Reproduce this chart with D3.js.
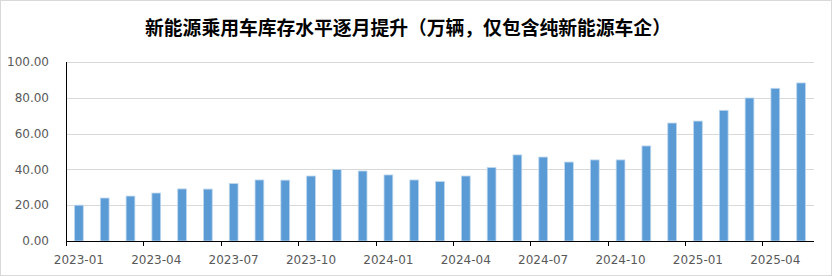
<!DOCTYPE html>
<html>
<head>
<meta charset="utf-8">
<script src="https://cdn.jsdelivr.net/npm/d3@7"></script>
<style>
  body { margin: 0; background: #fff; }
  svg { display: block; }
</style>
</head>
<body>
<div id="chart"></div>
<script>
const months = [
  "2023-01","2023-02","2023-03","2023-04","2023-05","2023-06","2023-07","2023-08","2023-09","2023-10","2023-11","2023-12",
  "2024-01","2024-02","2024-03","2024-04","2024-05","2024-06","2024-07","2024-08","2024-09","2024-10","2024-11","2024-12",
  "2025-01","2025-02","2025-03","2025-04","2025-05"
];
const inventory = [
  20, 24, 25.1, 26.8, 29.1, 29, 32.1, 34.1, 34, 36.3, 39.9, 39.1,
  36.9, 34.1, 33.2, 36.3, 41, 48.1, 46.9, 44.1, 45.3, 45.3, 53.1, 65.9,
  67, 73, 79.9, 85.3, 88.3
];
const yTicks = [0, 20, 40, 60, 80, 100];
const labelMonths = months.filter((m, i) => i % 3 === 0);

const width = 832, height = 276;
const margin = { top: 62, right: 18, bottom: 35, left: 66 };

const svg = d3.select("#chart")
  .append("svg")
  .attr("width", width)
  .attr("height", height);

// outer frame
svg.append("rect")
  .attr("x", 0.5).attr("y", 0.5)
  .attr("width", width - 1).attr("height", height - 1)
  .attr("fill", "#fff")
  .attr("stroke", "#d9d9d9");

svg.append("text")
  .attr("x", 408)
  .attr("y", 35)
  .attr("text-anchor", "middle")
  .attr("font-family", "'Noto Sans CJK SC', 'Noto Sans', sans-serif")
  .attr("font-weight", "bold")
  .attr("font-size", "18.8px")
  .attr("fill", "#000")
  .text("新能源乘用车库存水平逐月提升（万辆，仅包含纯新能源车企）");

const x = d3.scaleBand()
  .domain(months)
  .range([margin.left, width - margin.right])
  .paddingInner(0.66)
  .paddingOuter(0.33);

const y = d3.scaleLinear()
  .domain([0, 100])
  .range([height - margin.bottom, margin.top]);

// grid
svg.append("g")
  .selectAll("line")
  .data(yTicks.slice(1))
  .join("line")
  .attr("x1", margin.left)
  .attr("x2", width - margin.right)
  .attr("y1", d => Math.round(y(d)) + 0.5)
  .attr("y2", d => Math.round(y(d)) + 0.5)
  .attr("stroke", "#d9d9d9");

// y labels
svg.append("g")
  .selectAll("text")
  .data(yTicks)
  .join("text")
  .attr("x", 49)
  .attr("y", d => y(d))
  .attr("dy", "0.35em")
  .attr("text-anchor", "end")
  .attr("font-family", "'DejaVu Sans', sans-serif")
  .attr("font-size", "12px")
  .attr("fill", "#595959")
  .text(d => d3.format(".2f")(d));

// bars
svg.append("g")
  .selectAll("rect")
  .data(months)
  .join("rect")
  .attr("x", d => x(d))
  .attr("y", (d, i) => y(inventory[i]))
  .attr("width", x.bandwidth())
  .attr("height", (d, i) => y(0) - y(inventory[i]))
  .attr("fill", "#5b9bd5")
  .attr("stroke", "#bdd7ee")
  .attr("stroke-width", 0.8);

// axes lines
svg.append("line")
  .attr("x1", margin.left + 0.5).attr("x2", margin.left + 0.5)
  .attr("y1", margin.top).attr("y2", y(0))
  .attr("stroke", "#000");

svg.append("line")
  .attr("x1", margin.left).attr("x2", width - margin.right)
  .attr("y1", Math.round(y(0)) + 0.5).attr("y2", Math.round(y(0)) + 0.5)
  .attr("stroke", "#000");

// x ticks at band starts every 3 months
const step = x.step();
const x0 = margin.left;
svg.append("g")
  .selectAll("line")
  .data(labelMonths)
  .join("line")
  .attr("x1", d => Math.round(x0 + months.indexOf(d) * step) + 0.5)
  .attr("x2", d => Math.round(x0 + months.indexOf(d) * step) + 0.5)
  .attr("y1", y(0))
  .attr("y2", y(0) + 5)
  .attr("stroke", "#000");

svg.append("g")
  .selectAll("text")
  .data(labelMonths)
  .join("text")
  .attr("x", d => x(d) + x.bandwidth() / 2)
  .attr("y", y(0) + 23)
  .attr("text-anchor", "middle")
  .attr("font-family", "'DejaVu Sans', sans-serif")
  .attr("font-size", "12px")
  .attr("fill", "#595959")
  .text(d => d);
</script>
</body>
</html>
